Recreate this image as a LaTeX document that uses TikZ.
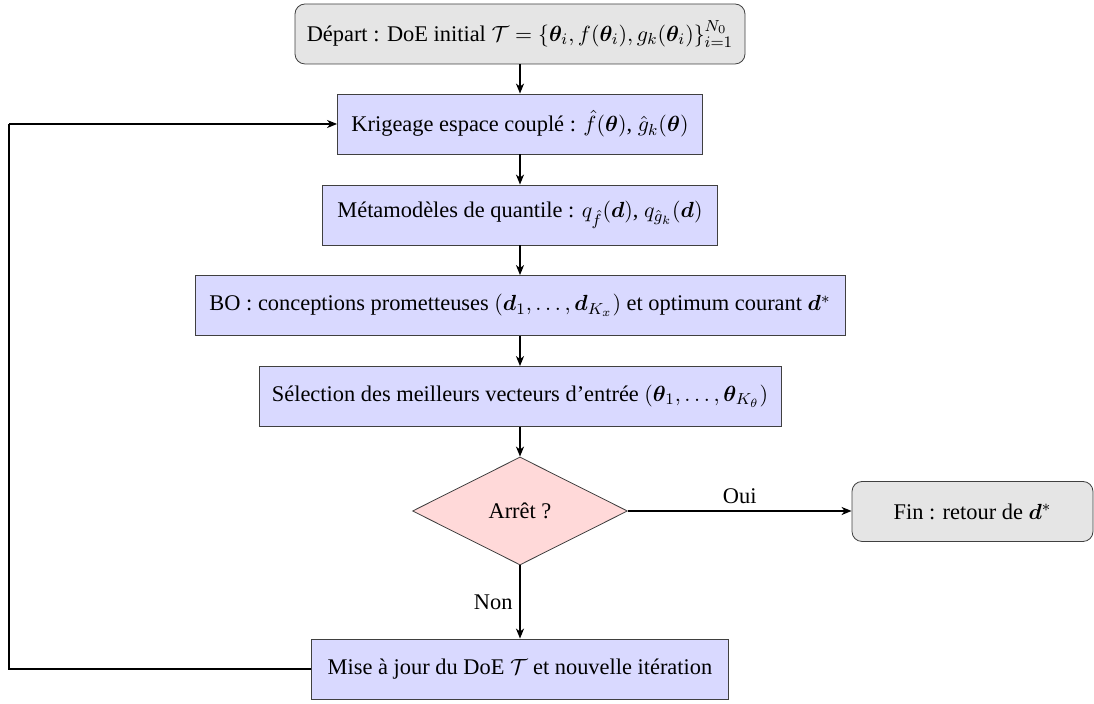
\documentclass[tikz,border=0pt]{standalone}
\usepackage{amsmath}
\usepackage{bm}
\usepackage{fontspec}
\setmainfont{Liberation Serif}
\usetikzlibrary{shapes.geometric,arrows.meta}
\tikzset{
  every node/.style={font=\fontsize{11.2}{13.5}\selectfont},
  procbox/.style={draw=black!75, fill=blue!15, inner xsep=2pt, inner ysep=3pt, minimum height=30pt},
  termbox/.style={draw=black!75, fill=gray!20, rounded corners=5pt, inner xsep=2pt, inner ysep=3pt, minimum height=30pt},
  decbox/.style={draw=black!75, fill=red!15, diamond, aspect=2, minimum width=107.5pt, minimum height=54pt, inner sep=1pt},
  flow/.style={thick, -{Stealth[length=5pt,width=4pt,inset=1.5pt]}}
}
\begin{document}
\begin{tikzpicture}[x=0.5pt,y=-0.5pt]
\useasboundingbox (0,0) rectangle (1094,704);
\node[termbox, minimum width=225pt] (start) at (520,34) {Départ : DoE initial $\mathcal{T}=\{\bm{\theta}_i, f(\bm{\theta}_i), g_k(\bm{\theta}_i)\}_{i=1}^{N_0}$};
\node[procbox, minimum width=182.5pt] (krige) at (520,124) {Krigeage espace couplé : $\hat{f}(\bm{\theta})$, $\hat{g}_k(\bm{\theta})$};
\node[procbox, minimum width=197.5pt] (meta) at (520,215) {Métamodèles de quantile : $q_{\hat{f}}(\bm{d})$, $q_{\hat{g}_k}(\bm{d})$};
\node[procbox, minimum width=325pt] (bo) at (520,305.5) {BO : conceptions prometteuses $(\bm{d}_1,\ldots,\bm{d}_{K_x})$ et optimum courant $\bm{d}^{*}$};
\node[procbox, minimum width=261pt] (sel) at (520,396.5) {Sélection des meilleurs vecteurs d’entrée $(\bm{\theta}_1,\ldots,\bm{\theta}_{K_\theta})$};
\node[decbox] (stop) at (520,511) {Arrêt ?};
\node[termbox, minimum width=120.5pt] (fin) at (972.5,511.5) {Fin : retour de $\bm{d}^{*}$};
\node[procbox, minimum width=208.5pt] (upd) at (520,669) {Mise à jour du DoE $\mathcal{T}$ et nouvelle itération};
\coordinate (lb) at (9,669);
\coordinate (lt) at (9,124);
\draw[flow] (start) -- (krige);
\draw[flow] (krige) -- (meta);
\draw[flow] (meta) -- (bo);
\draw[flow] (bo) -- (sel);
\draw[flow] (sel) -- (stop);
\draw[flow] (stop) -- node[above] {Oui} (stop -| fin.west);
\draw[flow] (stop) -- node[left] {Non} (upd);
\draw[thick] (upd.west) -- (lb) -- (lt);
\draw[flow] (lt) -- (lt -| krige.west);
\end{tikzpicture}
\end{document}
